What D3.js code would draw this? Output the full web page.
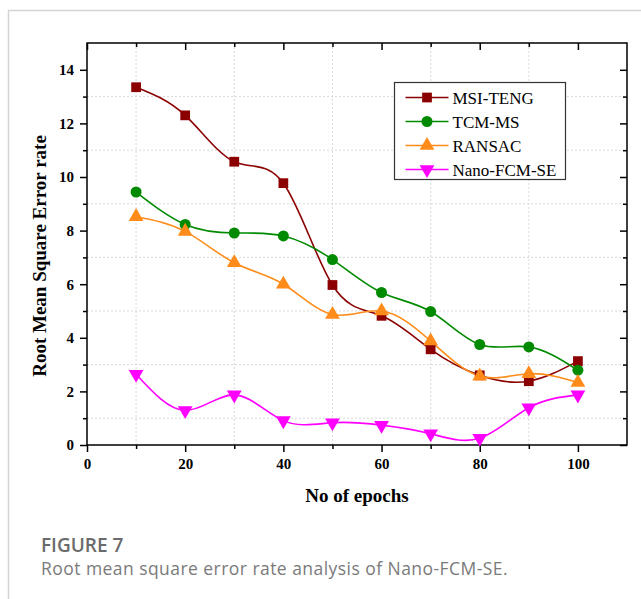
<!DOCTYPE html>
<html>
<head>
<meta charset="utf-8">
<script src="https://cdn.jsdelivr.net/npm/d3@7"></script>
<style>
  body { margin: 0; background: #fff; }
  svg { display: block; }
</style>
</head>
<body>
<script>
// data
const epochs = [10, 20, 30, 40, 50, 60, 70, 80, 90, 100];
const msiTeng = [13.35, 12.3, 10.57, 9.77, 5.97, 4.82, 3.57, 2.6, 2.38, 3.13];
const tcmMs = [9.44, 8.23, 7.91, 7.8, 6.92, 5.69, 4.98, 3.75, 3.66, 2.79];
const ransac = [8.52, 7.97, 6.8, 6.0, 4.87, 5.0, 3.88, 2.57, 2.66, 2.33];
const nanoFcm = [2.64, 1.29, 1.87, 0.91, 0.83, 0.74, 0.42, 0.25, 1.39, 1.87];
const seriesNames = ["MSI-TENG", "TCM-MS", "RANSAC", "Nano-FCM-SE"];
const seriesColors = ["#8b0000", "#008a00", "#ff8c1a", "#ff00ff"];
const seriesShapes = [d3.symbolSquare, d3.symbolCircle, d3.symbolTriangle, d3.symbolTriangle];
const xMajor = [0, 20, 40, 60, 80, 100];
const xMinor = [10, 30, 50, 70, 90];
const yMajor = [0, 2, 4, 6, 8, 10, 12, 14];
const yMinor = [1, 3, 5, 7, 9, 11, 13];

const allSeries = [msiTeng, tcmMs, ransac, nanoFcm].map((vals, i) => ({
  name: seriesNames[i], color: seriesColors[i], shape: seriesShapes[i],
  flip: i === 3,
  points: epochs.map((e, j) => [e, vals[j]])
}));

const W = 641, H = 599;
const margin = { top: 43, right: 14, bottom: 154, left: 87 };
const width = W - margin.left - margin.right,
  height = H - margin.top - margin.bottom;
const serif = "'Liberation Serif', 'Times New Roman', serif";

const svg = d3.select("body").append("svg")
  .attr("width", W).attr("height", H);

// card border
svg.append("path")
  .attr("d", "M8.5," + H + "V10.5H" + W)
  .attr("fill", "none").attr("stroke", "#d4d4d4").attr("stroke-width", 1.5);

const g = svg.append("g")
  .attr("transform", "translate(" + margin.left + "," + margin.top + ")");

const x = d3.scaleLinear().domain([0, 110]).range([0, width]);
const y = d3.scaleLinear().domain([0, 15]).range([height, 0]);

// dotted grid at the minor positions
g.append("g").selectAll("line").data(yMinor).join("line")
  .attr("x1", 0).attr("x2", width)
  .attr("y1", d => y(d)).attr("y2", d => y(d))
  .attr("stroke", "#d9d9d9").attr("stroke-dasharray", "2,2");
g.append("g").selectAll("line").data(xMinor).join("line")
  .attr("y1", 0).attr("y2", height)
  .attr("x1", d => x(d)).attr("x2", d => x(d))
  .attr("stroke", "#d9d9d9").attr("stroke-dasharray", "2,2");

function styleAxis(sel) {
  sel.select(".domain").remove();
  sel.selectAll("line").attr("stroke", "#000").attr("stroke-width", 1.5);
  sel.selectAll("text")
    .style("font-family", serif)
    .style("font-weight", "bold").style("font-size", "15px").attr("fill", "#000");
}

// bottom & left: ticks outward, labelled
g.append("g").attr("transform", "translate(0," + height + ")")
  .call(d3.axisBottom(x).tickValues(xMajor).tickSize(7).tickPadding(6).tickFormat(d3.format("d")))
  .call(styleAxis);
g.append("g").attr("transform", "translate(0," + height + ")")
  .call(d3.axisBottom(x).tickValues(xMinor).tickSize(4).tickFormat(""))
  .call(styleAxis);
g.append("g")
  .call(d3.axisLeft(y).tickValues(yMajor).tickSize(7).tickPadding(6).tickFormat(d3.format("d")))
  .call(styleAxis);
g.append("g")
  .call(d3.axisLeft(y).tickValues(yMinor).tickSize(4).tickFormat(""))
  .call(styleAxis);
// top & right: ticks inward
g.append("g")
  .call(d3.axisTop(x).tickValues(xMajor).tickSize(-7).tickFormat(""))
  .call(styleAxis);
g.append("g")
  .call(d3.axisTop(x).tickValues(xMinor).tickSize(-4).tickFormat(""))
  .call(styleAxis);
g.append("g").attr("transform", "translate(" + width + ",0)")
  .call(d3.axisRight(y).tickValues(yMajor).tickSize(-7).tickFormat(""))
  .call(styleAxis);
g.append("g").attr("transform", "translate(" + width + ",0)")
  .call(d3.axisRight(y).tickValues(yMinor).tickSize(-4).tickFormat(""))
  .call(styleAxis);

// frame
g.append("rect").attr("width", width).attr("height", height)
  .attr("fill", "none").attr("stroke", "#000").attr("stroke-width", 1.5);

const line = d3.line().x(d => x(d[0])).y(d => y(d[1])).curve(d3.curveNatural);

allSeries.forEach(s => {
  g.append("path").datum(s.points)
    .attr("d", line).attr("fill", "none")
    .attr("stroke", s.color).attr("stroke-width", 1.6);
});

function marker(sel, s) {
  sel.attr("d", d3.symbol().type(s.shape).size(95))
    .attr("fill", s.color);
}

allSeries.forEach(s => {
  g.append("g").selectAll("path").data(s.points).join("path")
    .attr("transform", d => "translate(" + x(d[0]) + "," + y(d[1]) + ")" + (s.flip ? " rotate(180)" : ""))
    .call(marker, s);
});

// legend
const lg = svg.append("g").attr("transform", "translate(394.5,82.5)");
lg.append("rect").attr("width", 171).attr("height", 97)
  .attr("fill", "#fff").attr("stroke", "#333").attr("stroke-width", 1.2);
allSeries.forEach((s, i) => {
  const row = lg.append("g").attr("transform", "translate(0," + (15 + i * 24) + ")");
  row.append("line").attr("x1", 11).attr("x2", 54)
    .attr("stroke", s.color).attr("stroke-width", 1.6);
  row.append("path")
    .attr("transform", "translate(32.5,0)" + (s.flip ? " rotate(180)" : ""))
    .call(marker, s);
  row.append("text").attr("x", 58).attr("y", 6)
    .style("font-family", serif)
    .style("font-size", "17px").attr("fill", "#000")
    .text(s.name);
});

// axis titles
svg.append("text")
  .attr("transform", "translate(46,256) rotate(-90)")
  .attr("text-anchor", "middle")
  .style("font-family", serif)
  .style("font-weight", "bold").style("font-size", "19px")
  .text("Root Mean Square Error rate");
svg.append("text")
  .attr("x", margin.left + width / 2).attr("y", 502)
  .attr("text-anchor", "middle")
  .style("font-family", serif)
  .style("font-weight", "bold").style("font-size", "19px")
  .text("No of epochs");

// caption
svg.append("text").attr("x", 41).attr("y", 552)
  .style("font-family", "'Open Sans', sans-serif").style("font-size", "19px")
  .style("font-weight", "600").attr("fill", "#6b6b6b")
  .text("FIGURE 7");
svg.append("text").attr("x", 41).attr("y", 575)
  .style("font-family", "'Open Sans', sans-serif").style("font-size", "17.5px")
  .style("letter-spacing", "0.45px").attr("fill", "#7a7a7a")
  .text("Root mean square error rate analysis of Nano-FCM-SE.");
</script>
</body>
</html>
